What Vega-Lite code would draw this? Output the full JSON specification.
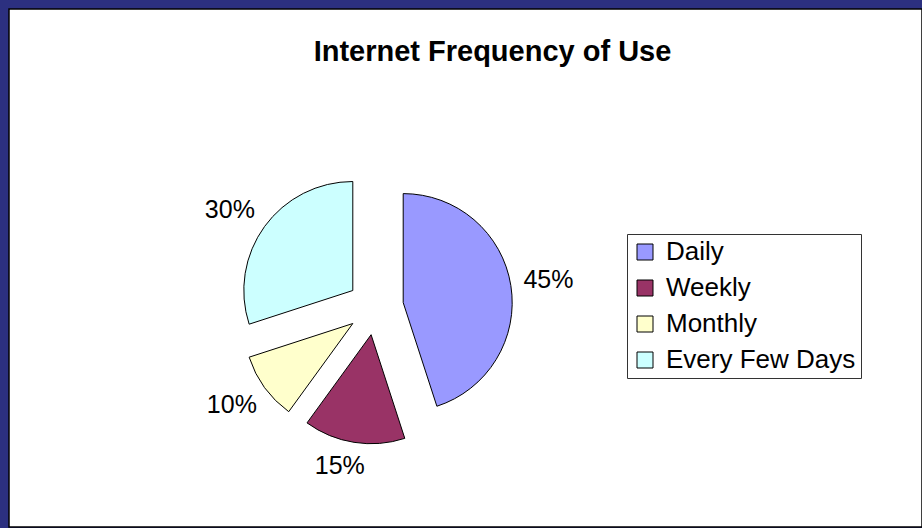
{
  "$schema": "https://vega.github.io/schema/vega-lite/v6.json",
  "width": 913,
  "height": 518,
  "autosize": {"type": "none"},
  "padding": {"left": 9, "top": 9, "right": 0, "bottom": 1},
  "background": "#2c3080",
  "view": {"fill": "white", "stroke": "black", "strokeWidth": 1.5},
  "title": {
    "text": "Internet Frequency of Use",
    "font": "Liberation Sans",
    "fontSize": 29,
    "fontWeight": "bold",
    "color": "black",
    "anchor": "middle",
    "frame": "group",
    "orient": "top",
    "offset": 0,
    "baseline": "alphabetic",
    "dx": 27,
    "dy": 81
  },
  "data": {
    "values": [
      {"category": "Daily", "share": 45, "label": "45%", "rank": 1},
      {"category": "Weekly", "share": 15, "label": "15%", "rank": 2},
      {"category": "Monthly", "share": 10, "label": "10%", "rank": 3},
      {"category": "Every Few Days", "share": 30, "label": "30%", "rank": 4}
    ]
  },
  "encoding": {
    "theta": {"field": "share", "type": "quantitative", "stack": true},
    "order": {"field": "rank", "type": "quantitative"},
    "color": {
      "field": "category",
      "type": "nominal",
      "scale": {
        "domain": ["Daily", "Weekly", "Monthly", "Every Few Days"],
        "range": ["#9999FF", "#993366", "#FFFFCC", "#CCFFFF"]
      },
      "legend": {
        "title": null,
        "orient": "none",
        "legendX": 618,
        "legendY": 225,
        "symbolType": "square",
        "symbolSize": 256,
        "symbolStrokeColor": "black",
        "symbolStrokeWidth": 1,
        "labelFont": "Liberation Sans",
        "labelFontSize": 26,
        "labelColor": "black",
        "labelOffset": 8,
        "labelLimit": 400,
        "rowPadding": 10,
        "padding": 5,
        "strokeColor": "#333333",
        "fillColor": "white"
      }
    }
  },
  "layer": [
    {
      "mark": {"type": "arc", "radius": 109, "x": 366.5, "y": 298, "xOffset": 27.7, "yOffset": -4.4, "stroke": "black", "strokeWidth": 1},
      "encoding": {"opacity": {"condition": {"test": "datum.category === 'Daily'", "value": 1}, "value": 0}}
    },
    {
      "mark": {"type": "arc", "radius": 109, "x": 366.5, "y": 298, "xOffset": -4.4, "yOffset": 27.7, "stroke": "black", "strokeWidth": 1},
      "encoding": {"opacity": {"condition": {"test": "datum.category === 'Weekly'", "value": 1}, "value": 0}}
    },
    {
      "mark": {"type": "arc", "radius": 109, "x": 366.5, "y": 298, "xOffset": -22.7, "yOffset": 16.5, "stroke": "black", "strokeWidth": 1},
      "encoding": {"opacity": {"condition": {"test": "datum.category === 'Monthly'", "value": 1}, "value": 0}}
    },
    {
      "mark": {"type": "arc", "radius": 109, "x": 366.5, "y": 298, "xOffset": -22.7, "yOffset": -16.5, "stroke": "black", "strokeWidth": 1},
      "encoding": {"opacity": {"condition": {"test": "datum.category === 'Every Few Days'", "value": 1}, "value": 0}}
    },
    {
      "mark": {"type": "text", "radius": 146, "x": 366.5, "y": 298, "xOffset": 28.7, "yOffset": -4.4, "font": "Liberation Sans", "fontSize": 25, "color": "black", "align": "center", "baseline": "middle"},
      "encoding": {
        "text": {"field": "label"},
        "color": {"value": "black"},
        "opacity": {"condition": {"test": "datum.category === 'Daily'", "value": 1}, "value": 0}
      }
    },
    {
      "mark": {"type": "text", "radius": 136, "x": 366.5, "y": 298, "xOffset": -14.4, "yOffset": 24.2, "font": "Liberation Sans", "fontSize": 25, "color": "black", "align": "center", "baseline": "middle"},
      "encoding": {
        "text": {"field": "label"},
        "color": {"value": "black"},
        "opacity": {"condition": {"test": "datum.category === 'Weekly'", "value": 1}, "value": 0}
      }
    },
    {
      "mark": {"type": "text", "radius": 147, "x": 366.5, "y": 298, "xOffset": -24.7, "yOffset": 11.5, "font": "Liberation Sans", "fontSize": 25, "color": "black", "align": "center", "baseline": "middle"},
      "encoding": {
        "text": {"field": "label"},
        "color": {"value": "black"},
        "opacity": {"condition": {"test": "datum.category === 'Monthly'", "value": 1}, "value": 0}
      }
    },
    {
      "mark": {"type": "text", "radius": 147, "x": 366.5, "y": 298, "xOffset": -26.7, "yOffset": -10.5, "font": "Liberation Sans", "fontSize": 25, "color": "black", "align": "center", "baseline": "middle"},
      "encoding": {
        "text": {"field": "label"},
        "color": {"value": "black"},
        "opacity": {"condition": {"test": "datum.category === 'Every Few Days'", "value": 1}, "value": 0}
      }
    }
  ]
}
